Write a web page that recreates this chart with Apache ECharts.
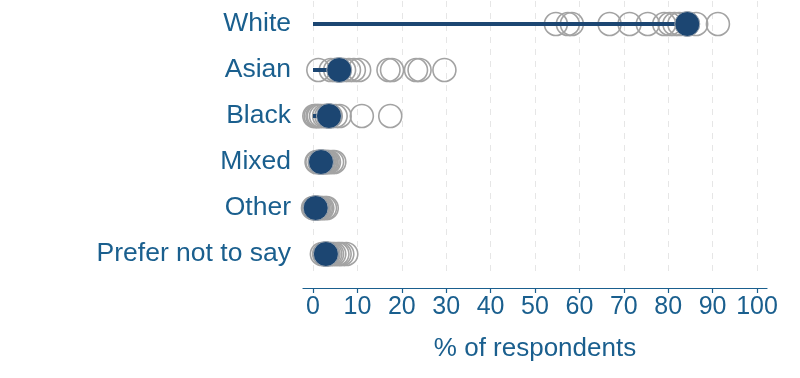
<!DOCTYPE html>
<html>
<head>
<meta charset="utf-8">
<script src="https://cdn.jsdelivr.net/npm/echarts@6/dist/echarts.min.js"></script>
<style>html,body{margin:0;padding:0;background:#fff}#c{width:800px;height:378px}</style>
</head>
<body>
<div id="c"></div>
<script>
const categories = ['White', 'Asian', 'Black', 'Mixed', 'Other', 'Prefer not to say'];
const whiteValues  = [54.7, 57.4, 58.3, 66.8, 71.3, 75.4, 79.1, 80.3, 81.4, 82.5, 86.3, 91.2];
const asianValues  = [1.2, 4.0, 5.0, 7.0, 8.1, 9.2, 10.4, 17.0, 17.8, 23.2, 24.0, 29.6];
const blackValues  = [0.3, 0.6, 1.0, 1.3, 1.8, 2.5, 3.0, 4.0, 5.1, 6.0, 11.0, 17.4];
const mixedValues  = [0.8, 1.0, 1.5, 2.0, 2.3, 2.5, 2.8, 3.0, 3.3, 3.6, 4.3, 4.8];
const otherValues  = [0.0, 0.2, 0.4, 0.6, 0.8, 1.0, 1.2, 1.5, 1.8, 2.1, 2.7, 3.1];
const preferValues = [2.0, 2.5, 2.9, 3.2, 3.5, 3.9, 4.3, 4.8, 5.5, 6.0, 6.6, 7.5];
const overallValues = [84.3, 5.9, 3.6, 1.8, 0.6, 2.9];
const xTicks = [0, 10, 20, 30, 40, 50, 60, 70, 80, 90, 100];

const groups = [whiteValues, asianValues, blackValues, mixedValues, otherValues, preferValues];
const openData = [];
groups.forEach((arr, i) => arr.forEach(v => openData.push([v, i])));
const filledData = overallValues.map((v, i) => [v, i]);

const textColor = '#1a5f8e';
const navy = '#1c4672';
const font = 'Liberation Sans, Arial, sans-serif';

const chart = echarts.init(document.getElementById('c'), null, {renderer: 'canvas'});
chart.setOption({
  animation: false,
  backgroundColor: '#fff',
  grid: [
    {left: 303, right: 33, top: 1, height: 276, containLabel: false},
    {left: 313, right: 43, top: 1, height: 276, containLabel: false}
  ],
  xAxis: [
    {gridIndex: 0, type: 'value', min: 0, max: 1, offset: 11,
     axisLine: {show: true, lineStyle: {color: textColor, width: 1.2}},
     axisTick: {show: false}, axisLabel: {show: false}, splitLine: {show: false}},
    {gridIndex: 1, type: 'value', min: xTicks[0], max: xTicks[xTicks.length - 1], interval: 10, offset: 11,
     name: '% of respondents', nameLocation: 'middle', nameGap: 48,
     nameTextStyle: {color: textColor, fontSize: 26, fontFamily: font},
     axisLine: {show: false},
     axisTick: {show: true, length: 5, lineStyle: {color: textColor, width: 1.2}},
     axisLabel: {color: textColor, fontSize: 25, fontFamily: font, margin: 7},
     splitLine: {show: true, lineStyle: {color: '#e6e6e6', type: [6, 6], width: 1}}}
  ],
  yAxis: [
    {gridIndex: 0, type: 'category', data: categories, inverse: true, show: false},
    {gridIndex: 1, type: 'category', data: categories, inverse: true,
     axisLine: {show: false}, axisTick: {show: false}, splitLine: {show: false},
     axisLabel: {color: textColor, fontSize: 26.5, fontFamily: font, margin: 22}}
  ],
  series: [
    {type: 'scatter', xAxisIndex: 1, yAxisIndex: 1, data: openData, symbolSize: 23, z: 2,
     itemStyle: {color: 'rgba(255,255,255,0)', borderColor: '#a3a3a3', borderWidth: 1.6, opacity: 1}},
    {type: 'bar', xAxisIndex: 1, yAxisIndex: 1, data: overallValues, barWidth: 4, z: 3,
     itemStyle: {color: navy, opacity: 1}},
    {type: 'scatter', xAxisIndex: 1, yAxisIndex: 1, data: filledData, symbolSize: 25, z: 4,
     itemStyle: {color: navy, borderColor: '#9aa3ad', borderWidth: 1, opacity: 1}}
  ]
});
</script>
</body>
</html>
